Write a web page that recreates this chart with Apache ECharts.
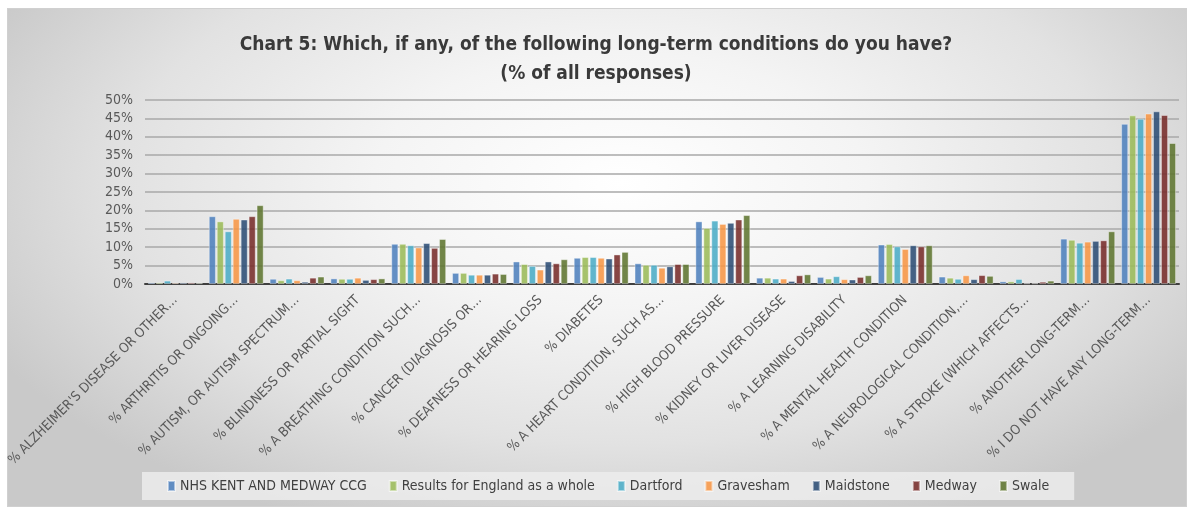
<!DOCTYPE html>
<html>
<head>
<meta charset="utf-8">
<script src="https://cdn.jsdelivr.net/npm/echarts@6/dist/echarts.min.js"></script>
<style>
  html, body { margin: 0; padding: 0; background: #ffffff; }
  #frame {
    position: absolute; left: 7px; top: 8px; width: 1180px; height: 499px;
    background: radial-gradient(ellipse 60% 75% at 52% 35%, #ffffff 0%, #f4f4f4 35%, #e2e2e2 70%, #c9c9c9 100%);
    box-sizing: border-box; border: 1px solid #d0d0d0;
  }
  #chart { position: absolute; left: 0; top: 0; width: 1192px; height: 507px; }
</style>
</head>
<body>
<div id="frame"></div>
<div id="chart"></div>
<script>
// Long-term condition categories (as shown on the axis)
const categories = [
  "% ALZHEIMER'S DISEASE OR OTHER\u2026",
  "% ARTHRITIS OR ONGOING\u2026",
  "% AUTISM, OR AUTISM SPECTRUM\u2026",
  "% BLINDNESS OR PARTIAL SIGHT",
  "% A BREATHING CONDITION SUCH\u2026",
  "% CANCER (DIAGNOSIS OR\u2026",
  "% DEAFNESS OR HEARING LOSS",
  "% DIABETES",
  "% A HEART CONDITION, SUCH AS\u2026",
  "% HIGH BLOOD PRESSURE",
  "% KIDNEY OR LIVER DISEASE",
  "% A LEARNING DISABILITY",
  "% A MENTAL HEALTH CONDITION",
  "% A NEUROLOGICAL CONDITION,\u2026",
  "% A STROKE (WHICH AFFECTS\u2026",
  "% ANOTHER LONG-TERM\u2026",
  "% I DO NOT HAVE ANY LONG-TERM\u2026"
];

// Percentage of all responses per area
const nhsKentMedway = [0.4, 18.4, 1.4, 1.5, 10.9, 3.0, 6.1, 7.1, 5.6, 17.0, 1.7, 1.9, 10.7, 2.0, 0.7, 12.3, 43.5];
const england       = [0.4, 17.0, 1.0, 1.4, 10.9, 3.0, 5.4, 7.3, 5.2, 15.2, 1.7, 1.45, 10.85, 1.7, 0.7, 12.0, 45.8];
const dartford      = [0.9, 14.3, 1.45, 1.4, 10.5, 2.5, 4.9, 7.3, 5.2, 17.2, 1.45, 2.1, 10.2, 1.4, 1.35, 11.2, 44.9];
const gravesham     = [0.3, 17.7, 1.0, 1.7, 9.9, 2.5, 3.9, 7.1, 4.4, 16.3, 1.45, 1.3, 9.5, 2.35, 0.2, 11.5, 46.3];
const maidstone     = [0.4, 17.5, 0.6, 1.1, 11.1, 2.5, 6.1, 6.9, 4.8, 16.6, 0.8, 1.2, 10.5, 1.3, 0.2, 11.7, 46.9];
const medway        = [0.4, 18.4, 1.7, 1.3, 9.8, 2.8, 5.6, 8.0, 5.4, 17.5, 2.35, 1.9, 10.2, 2.4, 0.6, 11.85, 45.9];
const swale         = [0.3, 21.4, 2.0, 1.5, 12.2, 2.7, 6.7, 8.7, 5.4, 18.7, 2.6, 2.35, 10.5, 2.2, 0.9, 14.3, 38.3];

const seriesNames = [
  "NHS KENT AND MEDWAY CCG", "Results for England as a whole", "Dartford",
  "Gravesham", "Maidstone", "Medway", "Swale"
];
const seriesData = [nhsKentMedway, england, dartford, gravesham, maidstone, medway, swale];
const colors = ["#4f81bd", "#9bbb59", "#4bacc6", "#f79646", "#2c4d75", "#772c2a", "#5f7530"];

const yTicks = { min: 0, max: 50, interval: 5 };

const font = "'Liberation Sans Narrow', 'DejaVu Sans Condensed', Roboto, sans-serif";

const chart = echarts.init(document.getElementById('chart'), null, { renderer: 'canvas' });

chart.setOption({
  backgroundColor: 'transparent',
  animation: false,
  color: colors,
  title: {
    text: 'Chart 5: Which, if any, of the following long-term conditions do you have?\n(% of all responses)',
    left: 'center',
    top: 26,
    textStyle: {
      fontFamily: font,
      fontSize: 19,
      fontWeight: 'bold',
      color: '#3a3a3a',
      lineHeight: 29,
      align: 'center'
    }
  },
  legend: {
    bottom: 7,
    left: 142,
    itemWidth: 7,
    itemHeight: 10,
    itemGap: 22,
    padding: [7, 25],
    backgroundColor: 'rgba(236,236,236,0.85)',
    icon: 'rect',
    textStyle: { fontFamily: font, fontSize: 14, color: '#404040' },
    data: seriesNames
  },
  grid: {
    left: 145,
    right: 13,
    top: 100,
    bottom: 223,
    containLabel: false
  },
  xAxis: {
    type: 'category',
    data: categories,
    axisTick: { show: false },
    axisLine: { lineStyle: { color: '#3f3f3f', width: 2 } },
    axisLabel: {
      interval: 0,
      rotate: 45,
      margin: 14,
      fontFamily: font,
      fontSize: 13.5,
      color: '#595959'
    }
  },
  yAxis: {
    type: 'value',
    min: yTicks.min,
    max: yTicks.max,
    interval: yTicks.interval,
    axisLine: { show: false },
    axisTick: { show: false },
    axisLabel: {
      formatter: '{value}%',
      fontFamily: font,
      fontSize: 14,
      color: '#595959',
      margin: 12
    },
    splitLine: { lineStyle: { color: '#a8a8a8', width: 1.5 } }
  },
  series: seriesNames.map((name, i) => ({
    name: name,
    type: 'bar',
    data: seriesData[i],
    barGap: '15%',
    barCategoryGap: '10%',
    itemStyle: {
      color: colors[i],
      opacity: 0.88,
      borderColor: 'rgba(255,255,255,0.55)',
      borderWidth: 0.8
    }
  }))
});
</script>
</body>
</html>
